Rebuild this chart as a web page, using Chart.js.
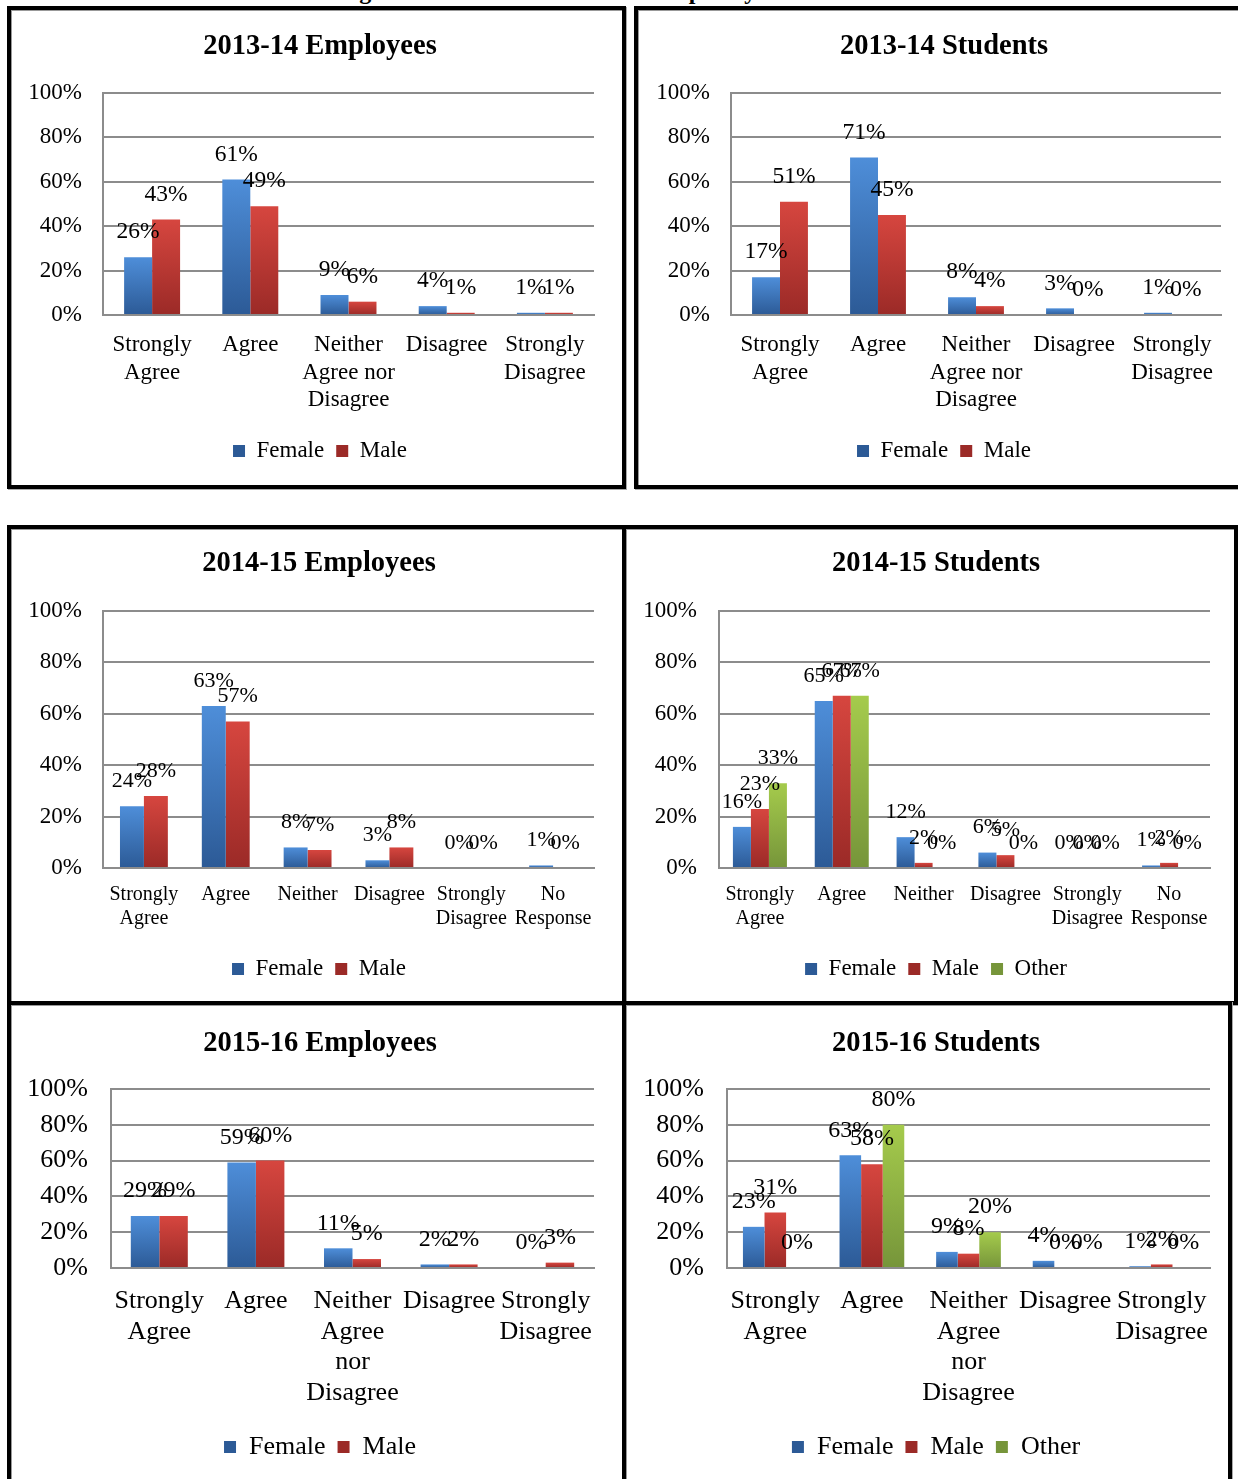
<!DOCTYPE html>
<html>
<head>
<meta charset="utf-8">
<script src="https://cdn.jsdelivr.net/npm/chart.js@4.4.1/dist/chart.umd.min.js"></script>
<style>
  html, body { margin: 0; padding: 0; background: #fff; }
  body { width: 1238px; height: 1479px; position: relative; overflow: hidden; font-family: "Liberation Serif", serif; }
  .panel { position: absolute; box-sizing: border-box; border: 4px solid #000; box-shadow: inset 1px 1px 0 #999, 1px 1px 0 #aaa; }
  .box { position: absolute; }
  #pageTitle { position: absolute; left: 338px; top: -21px; font: bold 24px "Liberation Serif", serif; line-height: 24px; white-space: nowrap; }
</style>
</head>
<body>
<div id="pageTitle">Figure 4: Overall Climate on Campus by Gender</div>
<div class="panel" style="left:7px;top:6px;width:619px;height:483px"></div>
<div class="panel" style="left:634px;top:6px;width:700px;height:483px"></div>
<div class="panel" style="left:7px;top:525px;width:619px;height:480px"></div>
<div class="panel" style="left:622px;top:525px;width:616px;height:480px"></div>
<div class="panel" style="left:7px;top:1001px;width:619px;height:600px"></div>
<div class="panel" style="left:622px;top:1001px;width:610px;height:600px"></div>

<script>
// ---- data ----
const yTickValues = [0, 20, 40, 60, 80, 100];
const seriesNames = ["Female", "Male", "Other"];

const labels5 = [["Strongly", "Agree"], "Agree", ["Neither", "Agree nor", "Disagree"], "Disagree", ["Strongly", "Disagree"]];
const labels6 = [["Strongly", "Agree"], "Agree", "Neither", "Disagree", ["Strongly", "Disagree"], ["No", "Response"]];
const labels5tall = [["Strongly", "Agree"], "Agree", ["Neither", "Agree", "nor", "Disagree"], "Disagree", ["Strongly", "Disagree"]];

// 2013-14
const emp1314Female = [26, 61, 9, 4, 1];
const emp1314Male   = [43, 49, 6, 1, 1];
const stu1314Female = [17, 71, 8, 3, 1];
const stu1314Male   = [51, 45, 4, 0, 0];

// 2014-15
const emp1415Female = [24, 63, 8, 3, 0, 1];
const emp1415Male   = [28, 57, 7, 8, 0, 0];
const stu1415Female = [16, 65, 12, 6, 0, 1];
const stu1415Male   = [23, 67, 2, 5, 0, 2];
const stu1415Other  = [33, 67, 0, 0, 0, 0];

// 2015-16
const emp1516Female = [29, 59, 11, 2, 0];
const emp1516Male   = [29, 60, 5, 2, 3];
const stu1516Female = [23, 63, 9, 4, 1];
const stu1516Male   = [31, 58, 8, 0, 2];
const stu1516Other  = [0, 80, 20, 0, 0];

// ---- styling ----
const FONT = '"Liberation Serif", "Times New Roman", serif';
const GRID = "#8c8c8c";
const colors = {
  Female: { top: "#4e8ed9", mid: "#3f7cc6", bottom: "#2c5a96" },
  Male:   { top: "#d6463f", mid: "#c33a36", bottom: "#9b2a27" },
  Other:  { top: "#a5cb4c", mid: "#8fb541", bottom: "#76953a" }
};

function barFill(c) {
  return (ctx) => {
    const chart = ctx.chart;
    const y = chart.scales && chart.scales.y;
    if (!y || ctx.raw == null) return c.mid;
    const y0 = y.getPixelForValue(0), y1 = y.getPixelForValue(ctx.raw);
    if (!isFinite(y0) || !isFinite(y1) || y0 - y1 < 1) return c.bottom;
    const g = chart.ctx.createLinearGradient(0, y1, 0, y0);
    g.addColorStop(0, c.top);
    g.addColorStop(1, c.bottom);
    return g;
  };
}

// value labels above each bar, drawn after all bars like Excel does
const valueLabels = {
  id: "valueLabels",
  afterDatasetsDraw(chart, args, opts) {
    const ctx = chart.ctx;
    ctx.save();
    ctx.font = opts.size + "px " + FONT;
    ctx.fillStyle = "#000";
    ctx.textAlign = "center";
    ctx.textBaseline = "middle";
    chart.data.datasets.forEach((ds, i) => {
      chart.getDatasetMeta(i).data.forEach((bar, j) => {
        ctx.fillText(ds.data[j] + "%", bar.x, bar.y - opts.offset);
      });
    });
    ctx.restore();
  }
};

// centre title and legend on the panel instead of on the padded layout area
const centerBlocks = {
  id: "centerBlocks",
  afterLayout(chart, args, opts) {
    [chart.titleBlock, chart.legend].forEach(b => {
      if (!b) return;
      const half = (b.right - b.left) / 2;
      b.left = opts.cx - half;
      b.right = opts.cx + half;
    });
  }
};

function makeChart(s) {
  const [bx, by, W, H] = s.box;
  const wrap = document.createElement("div");
  wrap.className = "box";
  wrap.style.left = bx + "px"; wrap.style.top = by + "px";
  wrap.style.width = W + "px"; wrap.style.height = H + "px";
  const cv = document.createElement("canvas");
  cv.width = W; cv.height = H;
  wrap.appendChild(cv);
  document.body.appendChild(wrap);

  // layout numbers in canvas coordinates
  const pl = s.plot[0] - bx, pr = s.plot[1] - bx, pt = s.plot[2] - by, pb = s.plot[3] - by;
  const tc = s.titleC - by, lc = s.legendC - by, xf = s.xFirst - by;
  const T = s.titleSize, L = s.legendSize, lp = 12;
  const tPadTop = tc - T * 0.6;
  const tPadBottom = pt - tPadTop - T * 1.2;
  const legendTop = lc - lp - L / 2;
  const legendBottom = legendTop + L + lp + 10;
  const xH = legendTop - pb;
  const xPad = xf - pb - (s.xSize * s.xLine) / 2;

  const datasets = s.series.map((data, i) => ({
    label: seriesNames[i],
    data: data,
    backgroundColor: barFill(colors[seriesNames[i]]),
    borderWidth: 0
  }));

  new Chart(cv, {
    type: "bar",
    data: { labels: s.labels, datasets: datasets },
    plugins: [valueLabels, centerBlocks],
    options: {
      responsive: false,
      animation: false,
      events: [],
      categoryPercentage: s.catPct,
      barPercentage: 1,
      layout: { padding: { left: 0, top: 0, right: W - pr, bottom: H - legendBottom } },
      plugins: {
        title: {
          display: true, text: s.title, color: "#000",
          font: { family: FONT, size: T, weight: "bold", lineHeight: 1.2 },
          padding: { top: tPadTop, bottom: tPadBottom }
        },
        legend: {
          position: "bottom",
          labels: {
            color: "#000", boxWidth: 12, boxHeight: 12, padding: lp,
            font: { family: FONT, size: L }
          }
        },
        tooltip: { enabled: false },
        valueLabels: { size: s.dataSize, offset: 25 },
        centerBlocks: { cx: s.centerX - bx }
      },
      scales: {
        x: {
          grid: { display: false, drawTicks: false },
          border: { display: true, color: GRID, width: 2 },
          ticks: {
            color: "#000", padding: xPad, maxRotation: 0, minRotation: 0, autoSkip: false,
            font: { family: FONT, size: s.xSize, lineHeight: s.xLine }
          },
          afterFit(sc) { sc.height = xH; }
        },
        y: {
          min: 0, max: 100,
          afterBuildTicks(sc) { sc.ticks = yTickValues.map(v => ({ value: v })); },
          grid: { color: GRID, lineWidth: 2, drawTicks: false },
          border: { display: true, color: GRID, width: 2 },
          ticks: {
            color: "#000", padding: pl - (s.yRight - bx),
            font: { family: FONT, size: s.ySize },
            callback: v => v + "%"
          },
          afterFit(sc) { sc.width = pl; }
        }
      }
    }
  });
}

makeChart({
  title: "2013-14 Employees", labels: labels5, series: [emp1314Female, emp1314Male],
  box: [11, 10, 611, 475], plot: [103, 594, 93, 315], titleC: 47, legendC: 451, xFirst: 345, yRight: 82, centerX: 320,
  titleSize: 28.5, ySize: 23, xSize: 23, xLine: 1.2, legendSize: 23, dataSize: 23.5, catPct: 0.57
});
makeChart({
  title: "2013-14 Students", labels: labels5, series: [stu1314Female, stu1314Male],
  box: [638, 10, 600, 475], plot: [731, 1221, 93, 315], titleC: 47, legendC: 451, xFirst: 345, yRight: 710, centerX: 944,
  titleSize: 28.5, ySize: 23, xSize: 23, xLine: 1.2, legendSize: 23, dataSize: 23.5, catPct: 0.57
});
makeChart({
  title: "2014-15 Employees", labels: labels6, series: [emp1415Female, emp1415Male],
  box: [11, 529, 611, 472], plot: [103, 594, 611, 868], titleC: 564, legendC: 969, xFirst: 895, yRight: 82, centerX: 319,
  titleSize: 28.5, ySize: 23, xSize: 20, xLine: 1.2, legendSize: 23, dataSize: 22, catPct: 0.585
});
makeChart({
  title: "2014-15 Students", labels: labels6, series: [stu1415Female, stu1415Male, stu1415Other],
  box: [626, 529, 608, 472], plot: [719, 1210, 611, 868], titleC: 564, legendC: 969, xFirst: 895, yRight: 697, centerX: 936,
  titleSize: 28.5, ySize: 23, xSize: 20, xLine: 1.2, legendSize: 23, dataSize: 22, catPct: 0.66
});
makeChart({
  title: "2015-16 Employees", labels: labels5tall, series: [emp1516Female, emp1516Male],
  box: [11, 1005, 611, 474], plot: [111, 594, 1089, 1268], titleC: 1044, legendC: 1447, xFirst: 1301, yRight: 88, centerX: 320,
  titleSize: 28.5, ySize: 26, xSize: 26, xLine: 1.18, legendSize: 26, dataSize: 24, catPct: 0.59
});
makeChart({
  title: "2015-16 Students", labels: labels5tall, series: [stu1516Female, stu1516Male, stu1516Other],
  box: [626, 1005, 602, 474], plot: [727, 1210, 1089, 1268], titleC: 1044, legendC: 1447, xFirst: 1301, yRight: 704, centerX: 936,
  titleSize: 28.5, ySize: 26, xSize: 26, xLine: 1.18, legendSize: 26, dataSize: 24, catPct: 0.67
});
</script>
</body>
</html>
